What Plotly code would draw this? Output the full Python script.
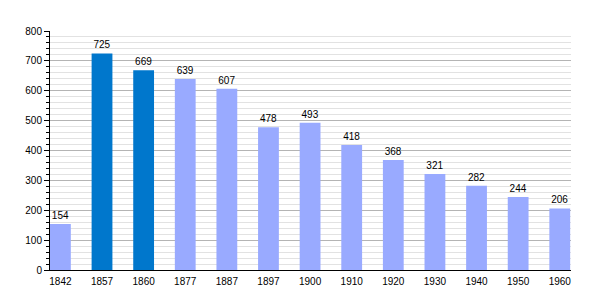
import plotly.graph_objects as go

years = ["1842", "1857", "1860", "1877", "1887", "1897", "1900", "1910", "1920", "1930", "1940", "1950", "1960"]
population = [154, 725, 669, 639, 607, 478, 493, 418, 368, 321, 282, 244, 206]
highlight = ["1857", "1860"]

light = "#99aaff"
dark = "#0077cc"
colors = [dark if y in highlight else light for y in years]

fig = go.Figure(go.Bar(
    x=years, y=population, marker_color=colors, marker_line_width=0,
    width=0.5, text=[str(v) for v in population], textposition="outside",
    textfont=dict(size=10, color="black", family="Liberation Sans, Arial"),
    cliponaxis=False,
))

fig.update_layout(
    width=600, height=300,
    margin=dict(l=50, r=29, t=31, b=30),
    plot_bgcolor="white", paper_bgcolor="white",
    font=dict(family="Liberation Sans, Arial", size=10, color="black"),
    showlegend=False,
)
fig.update_xaxes(
    type="category", range=[-0.25, 12.27],
    showline=True, linecolor="black", linewidth=1,
    ticks="outside", ticklen=2, tickcolor="rgba(0,0,0,0)", showgrid=False,
)
fig.update_yaxes(
    range=[0, 800], dtick=100, tick0=0,
    showline=True, linecolor="black", linewidth=1,
    ticks="outside", ticklen=5, tickcolor="black",
    gridcolor="#b4b4b4", gridwidth=1,
    zeroline=False,
    minor=dict(dtick=20, showgrid=True, gridcolor="#e2e2e2", gridwidth=1,
               ticks="outside", ticklen=3, tickcolor="black"),
)

fig.write_html("out.html")
